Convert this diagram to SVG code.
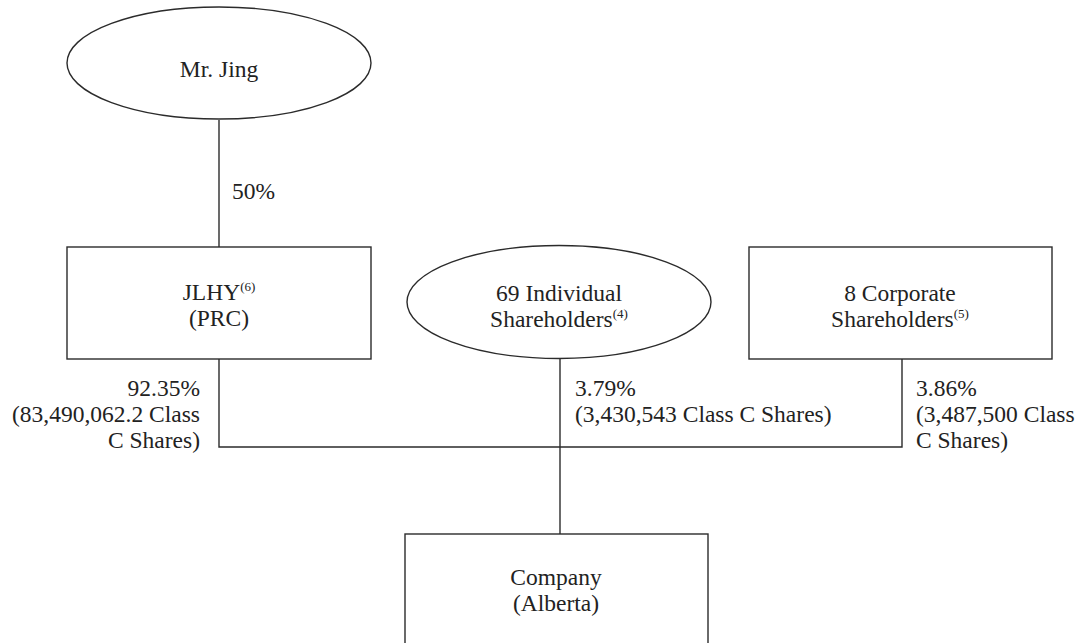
<svg xmlns="http://www.w3.org/2000/svg" width="1084" height="643" viewBox="0 0 1084 643" font-family="'Liberation Serif', 'DejaVu Serif', serif">
<style>
.shape{fill:#fff;stroke:#2b2b2b;stroke-width:1.4}
.conn{fill:none;stroke:#2b2b2b;stroke-width:1.4}
.t{font-family:'Liberation Serif','Times New Roman','DejaVu Serif',serif;font-size:23.5px;fill:#222}
.c{text-anchor:middle}
.e{text-anchor:end}
.sup{font-size:13px}
</style>
<rect width="1084" height="643" fill="#fff"/>
<g id="connectors">
<line class="conn" x1="219" y1="120" x2="219" y2="247"/>
<polyline class="conn" points="219,359 219,447 902,447 902,359"/>
<line class="conn" x1="560" y1="359" x2="560" y2="534"/>
</g>
<g id="mr-jing">
<ellipse class="shape" cx="219" cy="63" rx="152" ry="56"/>
<text class="t c" x="219" y="77">Mr. Jing</text>
</g>
<g id="jlhy">
<rect class="shape" x="67" y="247" width="304" height="112"/>
<text class="t c" x="219" y="300">JLHY<tspan class="sup" dy="-9">(6)</tspan></text>
<text class="t c" x="219" y="326">(PRC)</text>
</g>
<g id="individual">
<ellipse class="shape" cx="559" cy="302" rx="152" ry="56.5"/>
<text class="t c" x="559" y="301">69 Individual</text>
<text class="t c" x="559" y="327">Shareholders<tspan class="sup" dy="-9">(4)</tspan></text>
</g>
<g id="corporate">
<rect class="shape" x="749" y="247" width="303" height="112"/>
<text class="t c" x="900" y="301">8 Corporate</text>
<text class="t c" x="900" y="327">Shareholders<tspan class="sup" dy="-9">(5)</tspan></text>
</g>
<g id="company">
<rect class="shape" x="405" y="534" width="303" height="130"/>
<text class="t c" x="556" y="585">Company</text>
<text class="t c" x="556" y="611">(Alberta)</text>
</g>
<g id="labels">
<text class="t" x="232" y="199">50%</text>
<text class="t e" x="200" y="396">92.35%</text>
<text class="t e" x="200" y="422">(83,490,062.2 Class</text>
<text class="t e" x="200" y="448">C Shares)</text>
<text class="t" x="575" y="396">3.79%</text>
<text class="t" x="575" y="422">(3,430,543 Class C Shares)</text>
<text class="t" x="916" y="396">3.86%</text>
<text class="t" x="916" y="422">(3,487,500 Class</text>
<text class="t" x="916" y="448">C Shares)</text>
</g>
</svg>
